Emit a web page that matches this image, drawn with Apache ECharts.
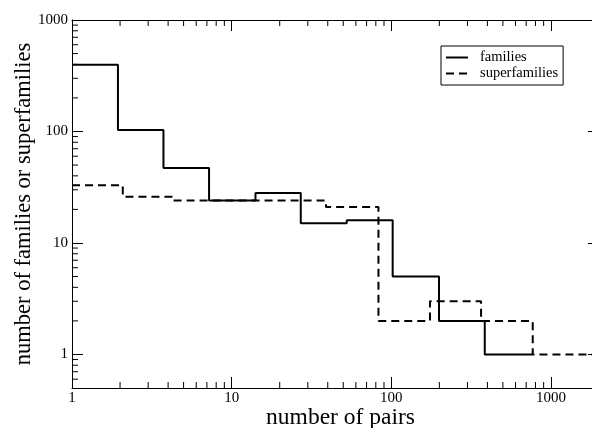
<!DOCTYPE html>
<html>
<head>
<meta charset="utf-8">
<script src="https://cdn.jsdelivr.net/npm/echarts@6/dist/echarts.min.js"></script>
<style>html,body{margin:0;padding:0;background:#fff;overflow:hidden;}#c{width:592px;height:428px;}</style>
</head>
<body>
<div id="c"></div>
<script>
// ---- data ----
const familyEdges = [1, 1.94, 3.74, 7.22, 14.1, 27.1, 52.6, 102, 199, 385, 769];
const familyValues = [397, 103, 47, 24, 28, 15, 16, 5, 2, 1];
const superEdges = [1, 2.08, 4.29, 39.0, 83.1, 174.7, 365, 769, 2000];
const superValues = [33, 26, 24, 21, 2, 3, 2, 1];
const xMinorTicks = [2,3,4,5,6,7,8,9,20,30,40,50,60,70,80,90,200,300,400,500,600,700,800,900];
const yMinorTicks = [0.6,0.7,0.8,0.9,2,3,4,5,6,7,8,9,20,30,40,50,60,70,80,90,200,300,400,500,600,700,800,900];

const X_MIN = 1, X_MAX = 2000, Y_MIN = 0.5, Y_MAX = 1000;
const FONT = 'Liberation Serif';

function stepData(edges, values) {
  const d = values.map((v, i) => [edges[i], v]);
  d.push([edges[edges.length - 1], values[values.length - 1]]);
  return d;
}

const chart = echarts.init(document.getElementById('c'), null, {renderer: 'canvas'});
const fmt = v => String(Math.round(v));
function axisCommon() {
  return {
    type: 'log', logBase: 10,
    axisLine: {show: true, onZero: false, lineStyle: {color: '#000', width: 1}},
    axisTick: {show: true, inside: true, length: 11, lineStyle: {color: '#000', width: 1}},
    splitLine: {show: false},
    minorTick: {show: false}
  };
}

const minorLen = 6;
function minorX(params, api) {
  const v = api.value(0);
  const b = api.coord([v, Y_MIN]);
  const t = api.coord([v, Y_MAX]);
  const st = {stroke: '#000', lineWidth: 1};
  return {type: 'group', children: [
    {type: 'line', shape: {x1: b[0], y1: b[1], x2: b[0], y2: b[1] - minorLen}, style: st},
    {type: 'line', shape: {x1: t[0], y1: t[1], x2: t[0], y2: t[1] + minorLen}, style: st}
  ]};
}
function minorY(params, api) {
  const v = api.value(1);
  const l = api.coord([X_MIN, v]);
  const r = api.coord([X_MAX, v]);
  const st = {stroke: '#000', lineWidth: 1};
  return {type: 'group', children: [
    {type: 'line', shape: {x1: l[0], y1: l[1], x2: l[0] + minorLen, y2: l[1]}, style: st},
    {type: 'line', shape: {x1: r[0], y1: r[1], x2: r[0] - minorLen, y2: r[1]}, style: st}
  ]};
}

chart.setOption({
  animation: false,
  backgroundColor: '#fff',
  grid: {left: 72, top: 20, width: 527, height: 368, containLabel: false, outerBoundsMode: 'none'},
  legend: {
    data: ['families', 'superfamilies'],
    orient: 'vertical', left: 441, top: 46,
    padding: [4, 5, 4, 4],
    borderColor: '#000', borderWidth: 1, borderRadius: 0,
    itemWidth: 22, itemHeight: 14, itemGap: 1,
    itemStyle: {color: 'rgba(0,0,0,0)', borderWidth: 0, opacity: 0},
    textStyle: {fontFamily: FONT, fontSize: 14.5, color: '#000', padding: [0, 0, 0, 7]}
  },
  xAxis: [
    Object.assign(axisCommon(), {
      position: 'bottom', min: X_MIN, max: X_MAX,
      name: 'number of pairs', nameLocation: 'middle', nameGap: 18, nameMoveOverlap: false,
      nameTextStyle: {fontFamily: FONT, fontSize: 23.5, color: '#000', padding: [0, 0, 0, 10]},
      axisLabel: {formatter: fmt, showMaxLabel: false, margin: 3, fontFamily: FONT, fontSize: 15, color: '#000'}
    }),
    Object.assign(axisCommon(), {
      position: 'top', min: X_MIN, max: X_MAX,
      axisLabel: {show: false}
    })
  ],
  yAxis: [
    Object.assign(axisCommon(), {
      position: 'left', min: Y_MIN, max: Y_MAX,
      name: 'number of families or superfamilies', nameLocation: 'middle', nameGap: 36, nameMoveOverlap: false,
      nameTextStyle: {fontFamily: FONT, fontSize: 22.5, color: '#000'},
      axisLabel: {formatter: fmt, showMinLabel: false, margin: 4, fontFamily: FONT, fontSize: 15, color: '#000'}
    }),
    Object.assign(axisCommon(), {
      position: 'right', min: Y_MIN, max: Y_MAX,
      axisLabel: {show: false}
    })
  ],
  series: [
    {
      name: 'families', type: 'line', step: 'end', symbol: 'none',
      data: stepData(familyEdges, familyValues),
      lineStyle: {color: '#000', width: 2, type: 'solid'},
      itemStyle: {color: '#000'}
    },
    {
      name: 'superfamilies', type: 'line', step: 'end', symbol: 'none',
      data: stepData(superEdges, superValues),
      lineStyle: {color: '#000', width: 2, type: [8, 5]},
      itemStyle: {color: '#000'}
    },
    {
      type: 'custom', silent: true, renderItem: minorX, z: 5,
      data: xMinorTicks.map(v => [v, 1]), clip: false
    },
    {
      type: 'custom', silent: true, renderItem: minorY, z: 5,
      data: yMinorTicks.map(v => [1, v]), clip: false
    }
  ]
});
</script>
</body>
</html>
